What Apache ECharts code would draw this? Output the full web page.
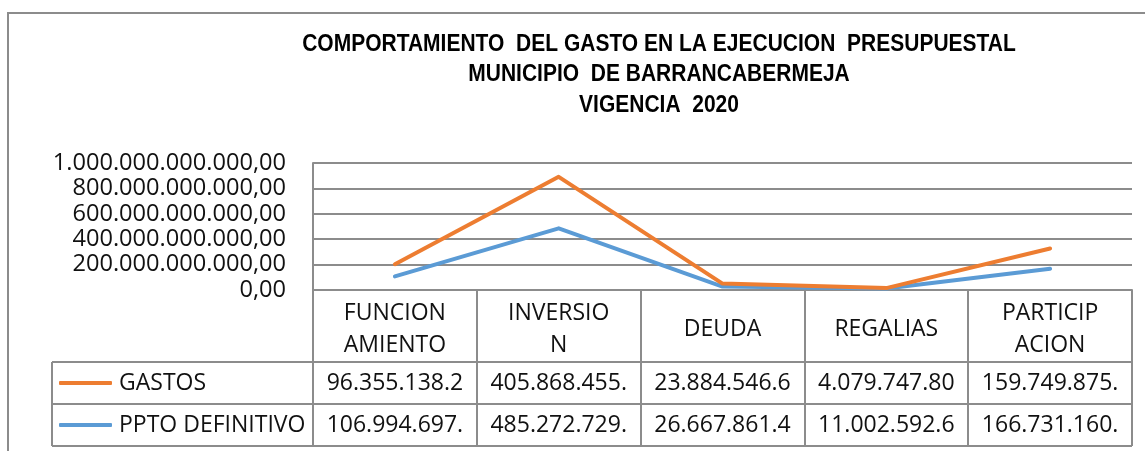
<!DOCTYPE html>
<html>
<head>
<meta charset="utf-8">
<script src="https://cdn.jsdelivr.net/npm/echarts@6/dist/echarts.min.js"></script>
<style>
  html, body { margin: 0; padding: 0; background: #fff; }
  #chart { width: 1145px; height: 451px; }
</style>
</head>
<body>
<div id="chart"></div>
<script>
// datos del grafico (pesos)
const categories = ['FUNCIONAMIENTO', 'INVERSION', 'DEUDA', 'REGALIAS', 'PARTICIPACION'];
const headerLabels = ['FUNCION\nAMIENTO', 'INVERSIO\nN', 'DEUDA', 'REGALIAS', 'PARTICIP\nACION'];
const gastos = [96355138200, 405868455000, 23884546600, 4079747800, 159749875000];
const pptoDefinitivo = [106994697000, 485272729000, 26667861400, 11002592600, 166731160000];
const titleLines = [
  'COMPORTAMIENTO  DEL GASTO EN LA EJECUCION  PRESUPUESTAL',
  'MUNICIPIO  DE BARRANCABERMEJA',
  'VIGENCIA  2020',
];
const yMin = 0;
const yMax = 1000000000000;
const yStep = 200000000000;

const ORANGE = '#ED7D31';
const BLUE = '#5B9BD5';
const GRID_GRAY = '#8c8c8c';
const FONT = 'Open Sans';

// 1.000.000,00
function fmt(v) {
  return String(Math.round(v)).replace(/\B(?=(\d{3})+(?!\d))/g, '.') + ',00';
}
// la celda de la tabla corta el texto
function cell(v) {
  return fmt(v).slice(0, 12);
}

const chart = echarts.init(document.getElementById('chart'));

const labelStyle = { color: '#111', fontFamily: FONT, fontSize: 23.6 };

chart.setOption({
  animation: false,
  backgroundColor: '#fff',
  grid: { left: 313, right: 13, top: 163, bottom: 161, containLabel: false },
  legend: {
    data: ['GASTOS', 'PPTO DEFINITIVO'],
    orient: 'vertical',
    left: 59,
    top: 368,
    padding: 0,
    itemGap: 12,
    itemWidth: 53,
    itemHeight: 4,
    icon: 'roundRect',
    textStyle: { ...labelStyle, fontSize: 23, lineHeight: 30, padding: [0, 0, 0, 2] },
  },
  xAxis: [
    {
      type: 'category',
      data: categories,
      boundaryGap: true,
      axisLine: { show: true, lineStyle: { color: GRID_GRAY, width: 2 } },
      axisTick: { show: true, interval: 0, length: 156, lineStyle: { color: GRID_GRAY, width: 2 } },
      axisLabel: {
        interval: 0,
        margin: 39,
        verticalAlign: 'middle',
        lineHeight: 32,
        ...labelStyle,
        fontSize: 23,
        formatter: (v, i) => headerLabels[i],
      },
    },
    {
      type: 'category',
      data: gastos.map(cell),
      position: 'bottom',
      offset: 72,
      axisLine: { show: false },
      axisTick: { show: false },
      axisLabel: { interval: 0, margin: 21, verticalAlign: 'middle', ...labelStyle, fontSize: 23 },
    },
    {
      type: 'category',
      data: pptoDefinitivo.map(cell),
      position: 'bottom',
      offset: 114,
      axisLine: { show: false },
      axisTick: { show: false },
      axisLabel: { interval: 0, margin: 21, verticalAlign: 'middle', ...labelStyle, fontSize: 23 },
    },
  ],
  yAxis: {
    type: 'value',
    min: yMin,
    max: yMax,
    interval: yStep,
    axisLine: { show: true, lineStyle: { color: GRID_GRAY, width: 2 } },
    axisTick: { show: false },
    axisLabel: { ...labelStyle, margin: 27, formatter: (v) => fmt(v) },
    splitLine: { lineStyle: { color: GRID_GRAY, width: 2 } },
  },
  series: [
    {
      name: 'PPTO DEFINITIVO',
      type: 'line',
      stack: 'total',
      data: pptoDefinitivo,
      showSymbol: false,
      color: BLUE,
      lineStyle: { color: BLUE, width: 4, cap: 'round', join: 'round' },
    },
    {
      name: 'GASTOS',
      type: 'line',
      stack: 'total',
      data: gastos,
      showSymbol: false,
      color: ORANGE,
      lineStyle: { color: ORANGE, width: 4, cap: 'round', join: 'round' },
    },
  ],
  graphic: [
    // marco del grafico
    {
      type: 'polyline',
      shape: { points: [[8, 451], [8, 13], [1145, 13]] },
      style: { stroke: GRID_GRAY, lineWidth: 2, fill: null },
      silent: true,
    },
    // titulo (letra alta y estrecha como en Excel)
    {
      type: 'text',
      x: 659,
      y: 29,
      scaleY: 1.1,
      style: {
        text: titleLines.join('\n'),
        align: 'center',
        verticalAlign: 'top',
        lineHeight: 27.7,
        font: 'bold 21px "Liberation Sans"',
        fill: '#000',
      },
      silent: true,
    },
    // tabla de datos
    { type: 'line', shape: { x1: 52, y1: 362, x2: 1132, y2: 362 }, style: { stroke: GRID_GRAY, lineWidth: 2 }, silent: true },
    { type: 'line', shape: { x1: 52, y1: 404, x2: 1132, y2: 404 }, style: { stroke: GRID_GRAY, lineWidth: 2 }, silent: true },
    { type: 'line', shape: { x1: 52, y1: 446, x2: 1132, y2: 446 }, style: { stroke: GRID_GRAY, lineWidth: 2 }, silent: true },
    { type: 'line', shape: { x1: 52, y1: 362, x2: 52, y2: 446 }, style: { stroke: GRID_GRAY, lineWidth: 2 }, silent: true },
  ],
});
</script>
</body>
</html>
